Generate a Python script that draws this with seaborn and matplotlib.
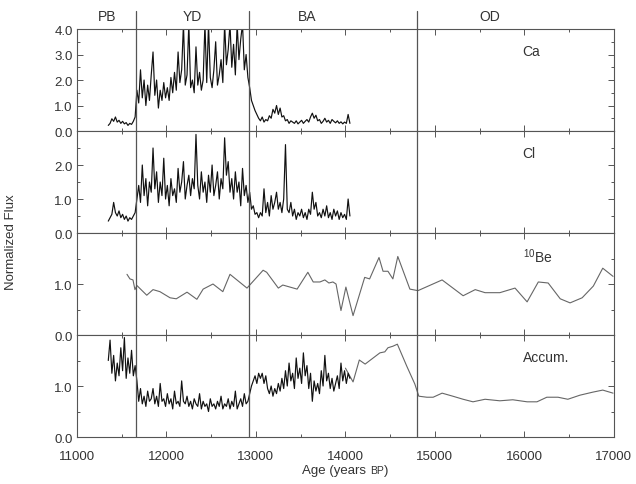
import numpy as np
import pandas as pd
import matplotlib
matplotlib.use("Agg")
import matplotlib.pyplot as plt
import seaborn as sns
from matplotlib.ticker import MultipleLocator, FormatStrFormatter
from matplotlib.offsetbox import TextArea, HPacker, AnchoredOffsetbox

# ---------------- data ----------------
hires_start = 11350
hires_step = 20

ca_flux = [
    0.22, 0.30, 0.48, 0.38, 0.55, 0.35, 0.42, 0.30, 0.38, 0.28,
    0.33, 0.22, 0.30, 0.26, 0.38, 0.55, 1.60, 1.10, 2.40, 1.30,
    2.00, 1.00, 1.80, 1.20, 2.20, 3.10, 1.40, 2.00, 0.90, 1.60,
    1.20, 1.90, 1.30, 1.70, 1.20, 2.10, 1.50, 2.30, 1.60, 3.10,
    1.90, 2.40, 4.20, 1.80, 2.20, 4.20, 1.70, 2.00, 1.50, 3.30,
    1.80, 2.30, 1.60, 2.00, 4.20, 1.90, 4.20, 2.10, 1.70, 2.40,
    3.50, 1.80, 2.20, 2.80, 1.90, 4.20, 2.60, 3.20, 4.20, 2.50,
    3.40, 2.20, 4.20, 2.80, 3.60, 4.20, 2.40, 3.00, 2.10, 1.70,
    1.20, 1.00, 0.80, 0.65, 0.50, 0.40, 0.55, 0.35, 0.45, 0.40,
    0.60, 0.50, 0.85, 0.70, 1.00, 0.65, 0.90, 0.55, 0.60, 0.40,
    0.45, 0.30, 0.40, 0.35, 0.30, 0.40, 0.28, 0.35, 0.42, 0.30,
    0.38, 0.45, 0.35, 0.55, 0.70, 0.50, 0.62, 0.40, 0.45, 0.30,
    0.38, 0.50, 0.35, 0.42, 0.30, 0.45, 0.38, 0.32, 0.40, 0.30,
    0.36, 0.28, 0.35, 0.30, 0.65, 0.30,
]

cl_flux = [
    0.35, 0.45, 0.55, 0.90, 0.60, 0.50, 0.65, 0.45, 0.55, 0.40,
    0.50, 0.35, 0.45, 0.40, 0.50, 0.60, 1.00, 1.40, 0.90, 2.00,
    1.10, 1.60, 0.80, 1.50, 1.20, 2.50, 1.30, 1.80, 0.90, 1.50,
    1.10, 2.20, 1.00, 1.40, 0.80, 1.60, 1.10, 1.30, 0.90, 1.90,
    1.20, 1.50, 2.10, 1.00, 1.40, 1.70, 1.10, 1.60, 1.30, 2.90,
    1.40, 1.00, 1.80, 1.20, 1.50, 0.90, 1.70, 1.20, 2.00, 1.10,
    1.40, 1.80, 1.00, 1.60, 1.30, 2.80, 1.70, 2.10, 1.20, 1.60,
    1.00, 1.80, 1.20, 1.50, 0.80, 1.90, 1.10, 1.40, 0.90, 1.20,
    0.70, 0.80, 0.55, 0.60, 0.45, 0.60, 0.50, 1.30, 0.60, 0.90,
    0.50, 1.10, 0.70, 0.90, 1.20, 0.70, 0.90, 0.60, 1.00, 2.60,
    0.70, 0.60, 0.90, 0.50, 0.70, 0.40, 0.60, 0.50, 0.70, 0.45,
    0.60, 0.40, 0.70, 0.55, 1.20, 0.70, 0.90, 0.50, 0.60, 0.45,
    0.70, 0.50, 0.80, 0.45, 0.60, 0.40, 0.70, 0.50, 0.65, 0.40,
    0.60, 0.45, 0.55, 0.40, 1.00, 0.50,
]

accum_hires = [
    1.50, 1.90, 1.25, 1.60, 1.10, 1.45, 1.20, 1.75, 1.30, 1.95,
    1.15, 1.55, 1.25, 1.70, 1.20, 1.40,
    1.10, 0.70, 0.95, 0.65, 0.80, 0.60, 0.90, 0.70, 0.75, 0.95,
    0.65, 0.80, 0.60, 1.05, 0.70, 0.75, 0.60, 0.85, 0.65, 0.75,
    0.55, 0.90, 0.65, 0.70, 0.60, 1.10, 0.70, 0.65, 0.80, 0.60,
    0.70, 0.55, 0.75, 0.65, 0.60, 0.85, 0.55, 0.70, 0.60, 0.65,
    0.50, 0.75, 0.60, 0.65, 0.55, 0.70, 0.60, 0.80, 0.55, 0.65,
    0.60, 0.75, 0.55, 0.70, 0.60, 0.90, 0.55, 0.65, 0.75, 0.60,
    0.85, 0.65,
    0.70, 0.85, 1.00, 1.10, 1.20, 1.05, 1.25, 1.15,
    1.25, 1.05, 1.20, 0.95, 0.85, 1.00, 0.80, 0.95, 0.85, 1.05,
    0.90, 1.15, 0.95, 1.30, 1.00, 1.45, 1.10, 1.25, 0.95, 1.55,
    1.15, 1.35, 1.05, 1.65, 1.20, 1.40, 0.95, 1.25, 0.70, 1.10,
    0.90, 1.05, 0.85, 1.30, 1.00, 1.60, 1.10, 1.25, 0.95, 1.15,
    0.90, 1.05, 1.20, 0.95, 1.45, 1.10, 1.30, 1.05, 1.25, 1.15,
]

accum_lores_age = [14000, 14085, 14155, 14220, 14295, 14385, 14440, 14475, 14530,
                   14580, 14685, 14775, 14820, 14910, 14980, 15080, 15200, 15315,
                   15425, 15560, 15725, 15870, 16030, 16140, 16250, 16375, 16485,
                   16620, 16765, 16875, 16990]
accum_lores = [1.35, 1.08, 1.51, 1.43, 1.53, 1.65, 1.67, 1.75, 1.78,
               1.82, 1.39, 1.04, 0.80, 0.78, 0.78, 0.86, 0.80, 0.74,
               0.69, 0.74, 0.71, 0.73, 0.69, 0.69, 0.78, 0.78, 0.74,
               0.82, 0.88, 0.92, 0.86]

be_age = [11559, 11592, 11626, 11648, 11670, 11780, 11850, 11927, 12040, 12110,
          12230, 12340, 12410, 12520, 12630, 12710, 12900, 13080, 13120, 13250,
          13300, 13460, 13580, 13640, 13715, 13770, 13815, 13860, 13895, 13950,
          14005, 14085, 14215, 14270, 14375, 14420, 14475, 14530, 14585, 14720,
          14810, 15080, 15315, 15450, 15560, 15725, 15895, 16030, 16155, 16265,
          16400, 16510, 16645, 16770, 16875, 16990]
be_flux = [1.19, 1.10, 1.08, 0.89, 0.97, 0.78, 0.89, 0.85, 0.73, 0.71,
           0.84, 0.70, 0.90, 1.00, 0.85, 1.19, 0.92, 1.27, 1.23, 0.92,
           0.98, 0.90, 1.23, 1.04, 1.04, 1.08, 1.02, 1.04, 1.00, 0.48,
           0.94, 0.38, 1.13, 1.10, 1.52, 1.25, 1.25, 1.10, 1.54, 0.90,
           0.87, 1.08, 0.77, 0.89, 0.83, 0.83, 0.92, 0.65, 1.04, 1.02,
           0.71, 0.63, 0.73, 0.96, 1.31, 1.15]

boundaries = [11660, 12920, 14800]
period_labels = ["PB", "YD", "BA", "OD"]
period_pos = [11335, 12285, 13570, 15615]
panel_names = ["Ca", "Cl", r"$^{10}$Be", "Accum."]
panel_ylim = [4.0, 3.0, 2.0, 2.0]
panel_yticks = [[0, 1, 2, 3, 4], [0, 1, 2], [0, 1], [0, 1]]
x_ticks = [11000, 12000, 13000, 14000, 15000, 16000, 17000]

# ---------------- build ----------------
def hires_df(vals):
    age = hires_start + hires_step * np.arange(len(vals))
    return pd.DataFrame({"age": age, "val": vals})

df_ca = hires_df(ca_flux)
df_cl = hires_df(cl_flux)
df_acc = hires_df(accum_hires)
df_acc_lo = pd.DataFrame({"age": accum_lores_age, "val": accum_lores})
df_be = pd.DataFrame({"age": be_age, "val": be_flux})

sns.set_theme(style="ticks")
plt.rcParams["font.family"] = ["Liberation Sans", "DejaVu Sans"]
plt.rcParams["mathtext.default"] = "regular"

tc = "#333333"
sc = "#555555"
fig = plt.figure(figsize=(6.36, 4.85), dpi=100)
fig.patch.set_facecolor("white")

left, width, height = 0.121, 0.8443, 0.2103
bottoms = [0.7278, 0.5175, 0.3072, 0.0969]
axes = [fig.add_axes([left, b, width, height]) for b in bottoms]

lw_hi = 0.85
lw_lo = 0.8
sns.lineplot(data=df_ca, x="age", y="val", ax=axes[0], color="#111111",
             linewidth=lw_hi, estimator=None, sort=False)
sns.lineplot(data=df_cl, x="age", y="val", ax=axes[1], color="#111111",
             linewidth=lw_hi, estimator=None, sort=False)
sns.lineplot(data=df_be, x="age", y="val", ax=axes[2], color="#666666",
             linewidth=lw_lo, estimator=None, sort=False)
sns.lineplot(data=df_acc_lo, x="age", y="val", ax=axes[3], color="#666666",
             linewidth=lw_lo, estimator=None, sort=False)
sns.lineplot(data=df_acc, x="age", y="val", ax=axes[3], color="#111111",
             linewidth=lw_hi, estimator=None, sort=False)

for i, ax in enumerate(axes):
    ax.set_xlim(11000, 17000)
    ax.set_ylim(0, panel_ylim[i])
    ax.set_xticks(x_ticks)
    ax.xaxis.set_minor_locator(MultipleLocator(500))
    ax.set_yticks(panel_yticks[i])
    ax.yaxis.set_minor_locator(MultipleLocator(0.5))
    ax.yaxis.set_major_formatter(FormatStrFormatter("%.1f"))
    ax.tick_params(which="both", direction="in", top=True, right=True,
                   colors=sc, labelcolor=tc, labelsize=9.5, width=0.7)
    ax.tick_params(which="major", length=4)
    ax.tick_params(which="minor", length=2)
    ax.set_xlabel("")
    ax.set_ylabel("")
    for sp in ax.spines.values():
        sp.set_color(sc)
        sp.set_linewidth(0.8)
    if i < 3:
        ax.tick_params(labelbottom=False)
    ax.tick_params(axis="y", pad=3)
    ax.tick_params(axis="x", pad=9)
    for b in boundaries:
        ax.axvline(b, color=sc, linewidth=0.9,
                   ymax=1.18 if i == 0 else 1.0, clip_on=(i != 0))
    ax.text(15980, 0.78, panel_names[i], transform=ax.get_xaxis_transform(),
            ha="left", va="center", fontsize=10, color=tc)

for lab, pos in zip(period_labels, period_pos):
    axes[0].text(pos, 1.125, lab, transform=axes[0].get_xaxis_transform(),
                 ha="center", va="center", fontsize=10, color=tc)

fig.text(0.018, 0.5, "Normalized Flux", rotation=90, ha="center", va="center",
         fontsize=9.5, color=tc)

t1 = TextArea("Age (years", textprops=dict(size=9.5, color=tc))
t2 = TextArea("BP", textprops=dict(size=7.5, color=tc))
t3 = TextArea(")", textprops=dict(size=9.5, color=tc))
inner = HPacker(children=[t2, t3], align="baseline", pad=0, sep=0)
box = HPacker(children=[t1, inner], align="baseline", pad=0, sep=3)
anch = AnchoredOffsetbox(loc="center", child=box, frameon=False,
                         bbox_to_anchor=(0.543, 0.029),
                         bbox_transform=fig.transFigure, borderpad=0, pad=0)
fig.add_artist(anch)

fig.savefig("out.png", dpi=100, facecolor="white")
